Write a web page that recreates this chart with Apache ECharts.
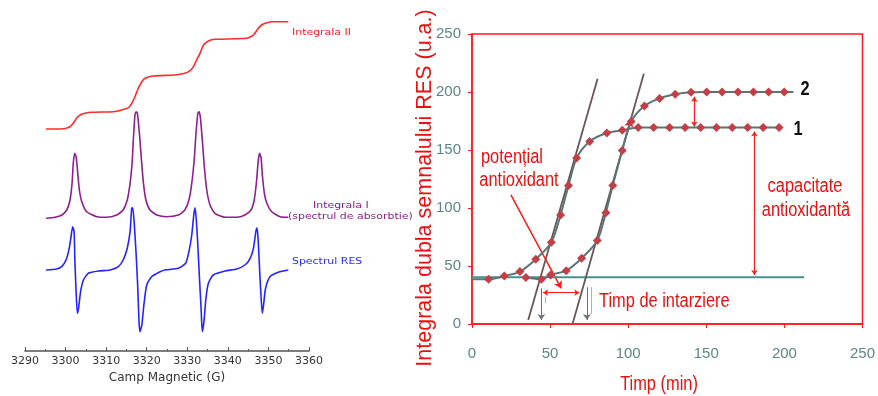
<!DOCTYPE html>
<html>
<head>
<meta charset="utf-8">
<script src="https://cdn.jsdelivr.net/npm/echarts@6/dist/echarts.min.js"></script>
<style>
  html, body { margin: 0; padding: 0; background: #fff; }
  #chart { width: 878px; height: 396px; }
</style>
</head>
<body>
<div id="chart"></div>
<script>
// ---- left panel: EPR spectrum (field in G, height in arbitrary units) ----
const integral2 = [
  [3295.2, 222], [3299.0, 222], [3301.1, 224.3], [3301.9, 227.7], [3302.7, 232.7], [3303.6, 236],
  [3304.8, 237.7], [3306.4, 238.7], [3311.8, 239.3], [3313.8, 241], [3315.5, 243.3], [3316.3, 247.7],
  [3317.1, 254.3], [3317.9, 262.7], [3318.8, 269.3], [3319.6, 272.7], [3321.6, 275], [3327.0, 276],
  [3329.4, 277.7], [3330.7, 280.3], [3331.5, 284.3], [3332.3, 291], [3333.1, 297.3], [3334.0, 306],
  [3335.2, 310], [3336.8, 311.7], [3344.6, 312.7], [3346.3, 316], [3347.5, 322.7], [3348.3, 326],
  [3349.6, 328.3], [3351.2, 329.3], [3354.9, 329.3]
];
const absorption = [
  [3295.2, 132.7], [3297.4, 133.7], [3299.1, 136], [3300.3, 141], [3301.1, 151], [3301.6, 167.7],
  [3301.9, 187.7], [3302.25, 197.7], [3302.6, 194.3], [3303.0, 177.7], [3303.4, 161], [3304.0, 149.3],
  [3305.2, 139.3], [3307.7, 134.3], [3310.1, 133.7], [3312.6, 136], [3314.2, 141], [3315.2, 151],
  [3315.9, 167.7], [3316.4, 187.7], [3316.7, 211], [3317.1, 236], [3317.4, 239.3], [3317.7, 237.7],
  [3318.2, 217.7], [3318.7, 191], [3319.2, 167.7], [3319.8, 151], [3320.8, 141], [3322.5, 136],
  [3324.9, 134.3], [3327.8, 136], [3329.4, 141], [3330.4, 151], [3331.1, 167.7], [3331.7, 191],
  [3332.15, 217.7], [3332.6, 237.7], [3332.9, 239.3], [3333.2, 234.3], [3333.7, 211], [3334.2, 184.3],
  [3334.8, 161], [3335.6, 146], [3336.8, 137.7], [3339.3, 133.7], [3342.2, 133.7], [3344.2, 136],
  [3345.7, 141], [3346.5, 151], [3347.1, 171], [3347.5, 191], [3347.85, 197.7], [3348.2, 192.7],
  [3348.5, 176], [3349.0, 157.7], [3349.6, 147.7], [3350.8, 139.3], [3352.9, 134.3], [3354.9, 133.7]
];
const derivative = [
  [3295.2, 81], [3297.8, 82], [3299.05, 84.3], [3300.1, 91], [3300.9, 102.7], [3301.4, 116],
  [3301.75, 124.3], [3302.1, 119.3], [3302.3, 89.3], [3302.6, 59.3], [3302.9, 37.7], [3303.2, 42.7],
  [3303.7, 59.3], [3304.4, 71], [3305.6, 77.7], [3308.1, 80], [3311.0, 81], [3313.0, 84.3],
  [3314.2, 91], [3315.2, 102.7], [3315.9, 119.3], [3316.3, 142.7], [3316.55, 143.3], [3316.9, 129.3],
  [3317.4, 96], [3317.8, 62.7], [3318.1, 29.3], [3318.35, 19.3], [3318.8, 26], [3319.3, 46],
  [3320.0, 66], [3321.2, 74.3], [3323.3, 79.3], [3324.5, 81], [3327.8, 82.7], [3329.6, 87.7],
  [3330.4, 99.3], [3331.1, 116], [3331.6, 136], [3331.9, 143.3], [3332.2, 132.7], [3332.6, 106],
  [3333.0, 72.7], [3333.4, 42.7], [3333.7, 19.3], [3334.1, 29.3], [3334.6, 52.7], [3335.2, 67.7],
  [3336.4, 76], [3339.3, 80], [3342.2, 82], [3344.2, 86], [3345.5, 92.7], [3346.3, 102.7],
  [3346.9, 119.3], [3347.2, 123.3], [3347.5, 109.3], [3347.85, 79.3], [3348.2, 52.7], [3348.5, 37.7],
  [3348.8, 46], [3349.3, 62.7], [3350.4, 74.3], [3352.4, 78.7], [3354.9, 81]
];

// ---- right panel: double integral vs time ----
const curve1 = [
  [0, 38.5], [10.6, 38.5], [20.7, 41.4], [30.7, 45.2], [40.8, 55.8], [50.8, 70.5], [56.7, 94],
  [61.8, 119.4], [67, 143], [75.3, 157.4], [86.3, 164.6], [96.2, 167], [106.4, 169.4], [116.3, 169.4],
  [126.5, 169.4], [136.4, 169.4], [146.4, 169.4], [156.5, 169.4], [166.6, 169.4], [176.5, 169.4],
  [186.4, 169.4], [196.6, 169.4]
];
const curve2 = [
  [34.5, 40], [44.4, 38.5], [50.3, 42.3], [60.3, 46], [70.2, 56.7], [80.2, 72], [85.7, 96],
  [90.1, 119.4], [96.2, 149.6], [101.9, 174.6], [110.4, 188], [120.1, 194.5], [130.1, 198],
  [140.2, 199.7], [150.2, 200], [160.1, 200], [170.3, 200], [180.2, 200], [189.9, 200], [199.9, 200],
  [205.8, 200]
];
const baseline = [[0, 40.3], [212.6, 40.3]];
const tangent1 = [[36, 3.5], [80.4, 211.5]];
const tangent2 = [[64.5, 0.6], [110, 215.8]];
// arrows: [start, end]
const redArrows = [
  [[24.9, 111.3], [57.1, 30.8]],
  [[99, 163], [101.5, 176]]
];
const redDoubleArrows = [
  [[45.5, 27], [68.7, 27]],
  [[180.8, 166], [180.8, 42.3]],
  [[142.3, 196], [142.3, 170.3]]
];
const grayArrows = [
  [[44.4, 30.8], [44.4, 3.5]],
  [[73.6, 31.7], [73.6, 3.5]]
];
const cyanMarks = [
  [[47, 23.5], [47, 18]],
  [[76.3, 32], [76.3, 8.6]]
];

const SANS = "'Liberation Sans', Arial, sans-serif";
const SMALL = "'DejaVu Sans', sans-serif";
// no narrow font installed: squeeze Liberation Sans
const NARROW_SCALE = 0.82;

const myEcharts = echarts.init(document.getElementById("chart"));

function txt(s, x, y, font, color, align, scaleX, rotation) {
  return {
    type: "text",
    x: x,
    y: y,
    scaleX: scaleX || 1,
    rotation: rotation || 0,
    style: {
      text: s,
      font: font,
      fill: color,
      align: align || "left",
      textAlign: align || "left",
      verticalAlign: "middle",
      textVerticalAlign: "middle",
    },
  };
}

function segs(list) {
  return list.map((p) => ({ coords: p }));
}

const red = "#e81010";

const option = {
  animation: false,
  grid: [
    { left: 25, width: 284, top: 10, height: 341 },
    {
      left: 472, width: 394, top: 34, height: 290,
      show: true, borderColor: "#ff1a1a", borderWidth: 1.5,
    },
  ],
  xAxis: [
    {
      gridIndex: 0,
      type: "value",
      min: 3290,
      max: 3360,
      interval: 10,
      name: "Camp Magnetic (G)",
      nameLocation: "middle",
      nameGap: 21,
      nameTextStyle: { fontFamily: SMALL, fontSize: 12, color: "#333" },
      axisLine: { lineStyle: { color: "#555", width: 1.6 } },
      axisTick: { inside: true, length: 4, lineStyle: { color: "#555" } },
      minorTick: { show: true, splitNumber: 2, length: 2, lineStyle: { color: "#555" } },
      axisLabel: {
        fontFamily: SMALL, fontSize: 11, color: "#333", margin: 5,
        formatter: (v) => String(v),
      },
      splitLine: { show: false },
    },
    {
      gridIndex: 1,
      type: "value",
      min: 0,
      max: 250,
      interval: 50,
      axisLine: { lineStyle: { color: "#ff1a1a", width: 1.5 } },
      axisTick: { length: 4, lineStyle: { color: "#ff1a1a" } },
      axisLabel: { fontFamily: SANS, fontSize: 15, color: "#5d8585", margin: 22 },
      splitLine: { show: false },
    },
  ],
  yAxis: [
    { gridIndex: 0, type: "value", min: 0, max: 341, show: false },
    {
      gridIndex: 1,
      type: "value",
      min: 0,
      max: 250,
      interval: 50,
      axisLine: { lineStyle: { color: "#ff1a1a", width: 1.5 } },
      axisTick: { length: 4, lineStyle: { color: "#ff1a1a" } },
      axisLabel: { fontFamily: SANS, fontSize: 15, color: "#5d8585", margin: 11 },
      splitLine: { show: false },
    },
  ],
  series: [
    // spectrum curves
    {
      type: "line", xAxisIndex: 0, yAxisIndex: 0, data: integral2,
      symbol: "none", smooth: 0.2, lineStyle: { color: "#ff2a2a", width: 1.6 },
    },
    {
      type: "line", xAxisIndex: 0, yAxisIndex: 0, data: absorption,
      symbol: "none", smooth: 0.2, lineStyle: { color: "#8e1f8e", width: 1.6 },
    },
    {
      type: "line", xAxisIndex: 0, yAxisIndex: 0, data: derivative,
      symbol: "none", smooth: 0.2, lineStyle: { color: "#2424ff", width: 1.6 },
    },
    // baseline and tangents
    {
      type: "line", xAxisIndex: 1, yAxisIndex: 1, data: baseline,
      symbol: "none", lineStyle: { color: "#4a8f8f", width: 2 },
    },
    {
      type: "line", xAxisIndex: 1, yAxisIndex: 1, data: tangent1,
      symbol: "none", lineStyle: { color: "#6b5656", width: 1.8 },
    },
    {
      type: "line", xAxisIndex: 1, yAxisIndex: 1, data: tangent2,
      symbol: "none", lineStyle: { color: "#6b5656", width: 1.8 },
    },
    // measured curves
    {
      type: "line", xAxisIndex: 1, yAxisIndex: 1,
      data: curve1.map((p, i) => (i === 0 ? { value: p, symbol: "none" } : p)),
      smooth: 0.3, symbol: "diamond", symbolSize: 9,
      lineStyle: { color: "#5b7575", width: 2 },
      itemStyle: { color: "#c23f47" },
    },
    {
      type: "line", xAxisIndex: 1, yAxisIndex: 1,
      data: curve2.map((p, i) => (i === curve2.length - 1 ? { value: p, symbol: "none" } : p)),
      smooth: 0.3, symbol: "diamond", symbolSize: 9,
      lineStyle: { color: "#5b7575", width: 2 },
      itemStyle: { color: "#c23f47" },
    },
    // annotation arrows
    {
      type: "lines", coordinateSystem: "cartesian2d", xAxisIndex: 1, yAxisIndex: 1,
      data: segs(redArrows), symbol: ["none", "arrow"], symbolSize: 7,
      lineStyle: { color: "#ff1a1a", width: 1.5, opacity: 1 },
    },
    {
      type: "lines", coordinateSystem: "cartesian2d", xAxisIndex: 1, yAxisIndex: 1,
      data: segs(redDoubleArrows), symbol: ["arrow", "arrow"], symbolSize: 5,
      lineStyle: { color: "#ff1a1a", width: 1.2, opacity: 1 },
    },
    {
      type: "lines", coordinateSystem: "cartesian2d", xAxisIndex: 1, yAxisIndex: 1,
      data: segs(grayArrows), symbol: ["none", "arrow"], symbolSize: 6,
      lineStyle: { color: "#707070", width: 1, opacity: 1 },
    },
    {
      type: "lines", coordinateSystem: "cartesian2d", xAxisIndex: 1, yAxisIndex: 1,
      data: segs(cyanMarks), symbol: ["none", "none"],
      lineStyle: { color: "#40e0e8", width: 1, opacity: 1 },
    },
  ],
  graphic: [
    txt("Integrala II", 292, 33, "9.5px " + SMALL, "#ff2020", "left", 1.15),
    txt("Integrala I", 313, 206, "9.5px " + SMALL, "#8b1a8b", "left", 1.15),
    txt("(spectrul de absorbtie)", 288, 217, "9.5px " + SMALL, "#8b1a8b", "left", 1.15),
    txt("Spectrul RES", 292, 262, "9.5px " + SMALL, "#2a2aff", "left", 1.15),
    txt("Integrala dubla semnalului RES (u.a.)", 425, 188, "21.5px " + SANS, red, "center", 1, Math.PI / 2),
    txt("Timp (min)", 659, 384, "20px " + SANS, red, "center", NARROW_SCALE),
    txt("potențial", 512, 157, "20px " + SANS, red, "center", NARROW_SCALE),
    txt("antioxidant", 519, 180, "20px " + SANS, red, "center", NARROW_SCALE),
    txt("capacitate", 805, 186, "20px " + SANS, red, "center", NARROW_SCALE),
    txt("antioxidantă", 806, 210, "20px " + SANS, red, "center", NARROW_SCALE),
    txt("Timp de intarziere", 599, 301, "20px " + SANS, red, "left", NARROW_SCALE),
    txt("2", 805, 89, "bold 20px " + SANS, "#111", "center", NARROW_SCALE),
    txt("1", 798, 129, "bold 20px " + SANS, "#111", "center", NARROW_SCALE),
  ],
};

myEcharts.setOption(option);
</script>
</body>
</html>
